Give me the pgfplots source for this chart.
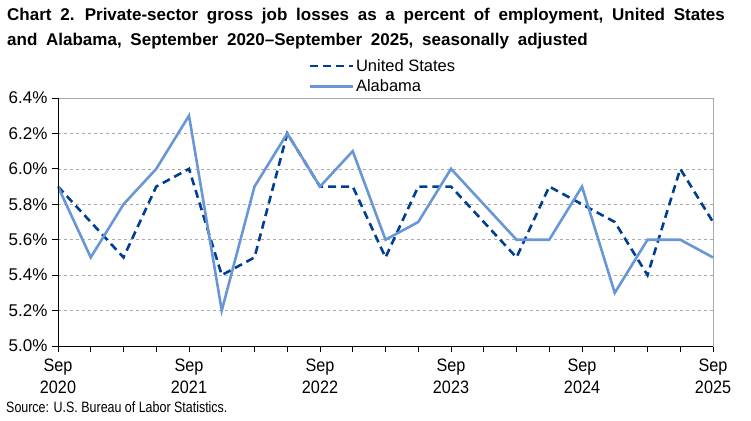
\documentclass[border=0pt]{standalone}
\usepackage{fontspec}
\setmainfont{Liberation Sans}
\newfontfamily\narrowfont[FakeStretch=0.9]{Liberation Sans}
\newfontfamily\srcfont[FakeStretch=0.83]{Liberation Sans}
\newfontfamily\titlefont[WordSpace=1.85]{Liberation Sans}
\usepackage{pgfplots}
\pgfplotsset{compat=1.18}

\definecolor{usblue}{RGB}{0,62,145}
\definecolor{albblue}{RGB}{105,150,214}
\definecolor{gridgray}{RGB}{170,170,170}

\begin{document}
\begin{tikzpicture}[x=1bp,y=1bp]
\path (0,0) rectangle (751,420);

\node[anchor=north west, align=left, font=\titlefont\bfseries\fontsize{17bp}{25bp}\selectfont, inner sep=0pt]
  at (7,412) {Chart 2. Private-sector gross job losses as a percent of employment, United States\\
  and Alabama, September 2020–September 2025, seasonally adjusted};

\node[anchor=south west, font=\srcfont\fontsize{15bp}{16bp}\selectfont, inner sep=0pt]
  at (6,7) {Source: U.S. Bureau of Labor Statistics.};

\begin{axis}[
  at={(58bp,74bp)}, anchor=south west,
  scale only axis,
  width=655bp, height=248bp,
  xmin=0, xmax=20,
  ymin=5.0, ymax=6.4,
  xtick={0,...,20},
  xticklabels={{Sep\\2020},,,,{Sep\\2021},,,,{Sep\\2022},,,,{Sep\\2023},,,,{Sep\\2024},,,,{Sep\\2025}},
  xticklabel style={align=center, font=\narrowfont\fontsize{18bp}{22bp}\selectfont, yshift=-3bp},
  ytick={5.0,5.2,5.4,5.6,5.8,6.0,6.2,6.4},
  yticklabel={\pgfmathprintnumber[fixed,fixed zerofill,precision=1]{\tick}\%},
  yticklabel style={font=\fontsize{17bp}{18bp}\selectfont, xshift=-1bp},
  /pgf/number format/assume math mode=true,
  tick align=outside,
  xtick pos=bottom, ytick pos=left,
  major tick length=6bp,
  tick style={black, line width=0.8bp},
  ymajorgrids,
  y grid style={gridgray, dashed, line width=0.7bp},
  axis line style={gridgray, line width=0.8bp},
  legend style={draw=none, fill=none, at={(0.382,1.165)}, anchor=north west,
    font=\fontsize{16.5bp}{18bp}\selectfont, row sep=3bp, inner sep=0pt},
  legend cell align=left,
  legend image code/.code={\draw[#1] (0bp,0bp) -- (43bp,0bp);},
  clip=false,
]

\addplot[usblue, line width=2.6bp, dash pattern=on 8bp off 5bp] coordinates {
(0,5.9) (1,5.7) (2,5.5) (3,5.9) (4,6.0) (5,5.4) (6,5.5) (7,6.2) (8,5.9) (9,5.9)
(10,5.5) (11,5.9) (12,5.9) (13,5.7) (14,5.5) (15,5.9) (16,5.8) (17,5.7) (18,5.4) (19,6.0) (20,5.7)
};
\addlegendentry{United States}

\addplot[albblue, line width=2.6bp] coordinates {
(0,5.9) (1,5.5) (2,5.8) (3,6.0) (4,6.3) (5,5.2) (6,5.9) (7,6.2) (8,5.9) (9,6.1)
(10,5.6) (11,5.7) (12,6.0) (13,5.8) (14,5.6) (15,5.6) (16,5.9) (17,5.3) (18,5.6) (19,5.6) (20,5.5)
};
\addlegendentry{Alabama}

\draw[black, line width=0.8bp] (rel axis cs:0,1) -- (rel axis cs:0,0) -- (rel axis cs:1,0);
\end{axis}
\end{tikzpicture}
\end{document}
